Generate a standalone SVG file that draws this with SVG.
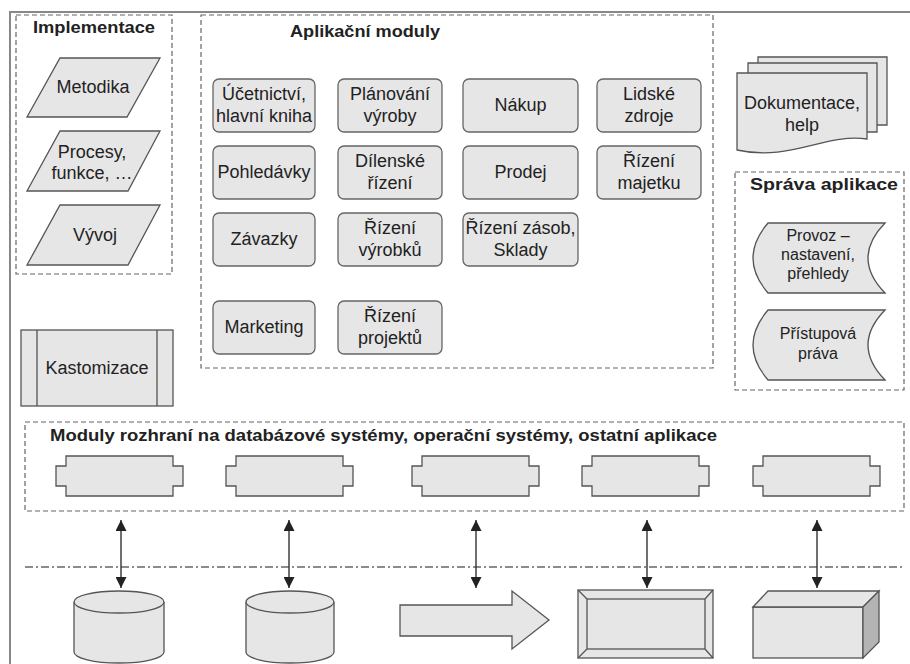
<svg xmlns="http://www.w3.org/2000/svg" width="910" height="664" viewBox="0 0 910 664">
<defs>
<style>
text{font-family:"Liberation Sans",Arial,sans-serif;fill:#222;}
.t{font-size:17px;font-weight:bold;}
.b{font-size:18px;text-anchor:middle;}
.s{font-size:16px;text-anchor:middle;}
.grp{fill:none;stroke:#666;stroke-width:1.2;stroke-dasharray:5 3;}
.sh{fill:#e6e6e6;stroke:#555;stroke-width:1.3;}
.mod{fill:#e6e6e6;stroke:#666;stroke-width:1.3;}
.dk{fill:#b4b4b4;stroke:#555;stroke-width:1.3;}
.ln{fill:none;stroke:#555;stroke-width:1.3;}
.conn{stroke:#333;stroke-width:1.4;fill:none;marker-start:url(#ah);marker-end:url(#ah);}
</style>
<marker id="ah" viewBox="0 0 10 10" refX="10" refY="5" markerWidth="11" markerHeight="11" markerUnits="userSpaceOnUse" orient="auto-start-reverse">
<path d="M0,0 L10,5 L0,10 Z" fill="#222"/>
</marker>
</defs>
<rect width="910" height="664" fill="#fff"/>
<path d="M10,664 V12 H910" fill="none" stroke="#888" stroke-width="2"/>

<g id="implementace">
<rect class="grp" x="16" y="15" width="156" height="259"/>
<text class="t" x="33" y="33" textLength="122" lengthAdjust="spacingAndGlyphs">Implementace</text>
</g>
<g id="metodika">
<polygon class="sh" points="60,58 160,58 127,117 27,117"/>
<text class="b" x="93" y="93">Metodika</text>
</g>
<g id="procesy">
<polygon class="sh" points="60,131 160,131 128,191 27,191"/>
<text class="b" x="92" y="158">Procesy,</text>
<text class="b" x="92" y="179">funkce, …</text>
</g>
<g id="vyvoj">
<polygon class="sh" points="60,205 160,205 128,265 27,265"/>
<text class="b" x="95" y="241">Vývoj</text>
</g>

<g id="kastomizace">
<rect class="sh" x="21" y="330" width="152" height="76"/>
<path class="ln" d="M37,330 V406 M157,330 V406"/>
<text class="b" x="97" y="374">Kastomizace</text>
</g>

<g id="aplikacni-moduly">
<rect class="grp" x="201" y="15" width="512" height="353"/>
<text class="t" x="290" y="37" textLength="150" lengthAdjust="spacingAndGlyphs">Aplikační moduly</text>
</g>
<g id="ucetnictvi">
<rect class="mod" x="213" y="79" width="102" height="53" rx="6"/>
<text class="b" x="264" y="100">Účetnictví,</text>
<text class="b" x="264" y="122">hlavní kniha</text>
</g>
<g id="planovani">
<rect class="mod" x="338" y="79" width="104" height="53" rx="6"/>
<text class="b" x="390" y="100">Plánování</text>
<text class="b" x="390" y="122">výroby</text>
</g>
<g id="nakup">
<rect class="mod" x="463" y="79" width="115" height="53" rx="6"/>
<text class="b" x="520.5" y="111">Nákup</text>
</g>
<g id="lidske-zdroje">
<rect class="mod" x="597" y="79" width="104" height="53" rx="6"/>
<text class="b" x="649" y="100">Lidské</text>
<text class="b" x="649" y="122">zdroje</text>
</g>
<g id="pohledavky">
<rect class="mod" x="213" y="146" width="102" height="53" rx="6"/>
<text class="b" x="264" y="178">Pohledávky</text>
</g>
<g id="dilenske">
<rect class="mod" x="338" y="146" width="104" height="53" rx="6"/>
<text class="b" x="390" y="167">Dílenské</text>
<text class="b" x="390" y="189">řízení</text>
</g>
<g id="prodej">
<rect class="mod" x="463" y="146" width="115" height="53" rx="6"/>
<text class="b" x="520.5" y="178">Prodej</text>
</g>
<g id="majetek">
<rect class="mod" x="597" y="146" width="104" height="53" rx="6"/>
<text class="b" x="649" y="167">Řízení</text>
<text class="b" x="649" y="189">majetku</text>
</g>
<g id="zavazky">
<rect class="mod" x="213" y="213" width="102" height="53" rx="6"/>
<text class="b" x="264" y="245">Závazky</text>
</g>
<g id="vyrobky">
<rect class="mod" x="338" y="213" width="104" height="53" rx="6"/>
<text class="b" x="390" y="234">Řízení</text>
<text class="b" x="390" y="256">výrobků</text>
</g>
<g id="zasoby">
<rect class="mod" x="463" y="213" width="115" height="53" rx="6"/>
<text class="b" x="520.5" y="234">Řízení zásob,</text>
<text class="b" x="520.5" y="256">Sklady</text>
</g>
<g id="marketing">
<rect class="mod" x="213" y="301" width="102" height="53" rx="6"/>
<text class="b" x="264" y="333">Marketing</text>
</g>
<g id="projekty">
<rect class="mod" x="338" y="301" width="104" height="53" rx="6"/>
<text class="b" x="390" y="322">Řízení</text>
<text class="b" x="390" y="344">projektů</text>
</g>

<g id="dokumentace">
<path class="sh" d="M758,63 V57 H887 V125 H877"/>
<path class="sh" d="M748,73 V63 H877 V132 H867"/>
<path class="sh" d="M737,73 H867 V139 C825,133 790,162 737,150 Z"/>
<text class="b" x="802" y="109">Dokumentace,</text>
<text class="b" x="802" y="131">help</text>
</g>

<g id="sprava-aplikace">
<rect class="grp" x="735" y="172" width="169" height="218"/>
<text class="t" x="750" y="190" textLength="148" lengthAdjust="spacingAndGlyphs">Správa aplikace</text>
</g>
<g id="provoz">
<path class="sh" d="M768,223 H885 Q851,258 885,293 H768 Q738,258 768,223 Z"/>
<text class="s" x="818" y="241">Provoz –</text>
<text class="s" x="818" y="260">nastavení,</text>
<text class="s" x="818" y="279">přehledy</text>
</g>
<g id="pristupova-prava">
<path class="sh" d="M768,310 H885 Q851,345 885,380 H768 Q738,345 768,310 Z"/>
<text class="s" x="818" y="339">Přístupová</text>
<text class="s" x="818" y="359">práva</text>
</g>

<g id="moduly-rozhrani">
<rect class="grp" x="25" y="422" width="879" height="89"/>
<text class="t" x="50" y="441" textLength="667" lengthAdjust="spacingAndGlyphs">Moduly rozhraní na databázové systémy, operační systémy, ostatní aplikace</text>
</g>
<g id="rozhrani-1"><path class="sh" d="M66,456 H173 V466 H183 V486 H173 V496 H66 V486 H56 V466 H66 Z"/></g>
<g id="rozhrani-2"><path class="sh" d="M236,456 H343 V466 H353 V486 H343 V496 H236 V486 H226 V466 H236 Z"/></g>
<g id="rozhrani-3"><path class="sh" d="M422,456 H529 V466 H539 V486 H529 V496 H422 V486 H412 V466 H422 Z"/></g>
<g id="rozhrani-4"><path class="sh" d="M592,456 H699 V466 H709 V486 H699 V496 H592 V486 H582 V466 H592 Z"/></g>
<g id="rozhrani-5"><path class="sh" d="M763,456 H870 V466 H880 V486 H870 V496 H763 V486 H753 V466 H763 Z"/></g>

<line x1="25" y1="567" x2="905" y2="567" stroke="#666" stroke-width="1.3" stroke-dasharray="8 3 2 3"/>

<g id="databaze-1">
<path class="sh" d="M74,602 V652 A45,11 0 0 0 164,652 V602"/>
<ellipse class="sh" cx="119" cy="602" rx="45" ry="11"/>
</g>
<g id="databaze-2">
<path class="sh" d="M246,602 V652 A44,11 0 0 0 334,652 V602"/>
<ellipse class="sh" cx="290" cy="602" rx="44" ry="11"/>
</g>
<g id="sipka">
<polygon class="sh" points="400,605 512,605 512,591 549,620 512,649 512,636 400,636"/>
</g>
<g id="ramec">
<rect class="sh" x="578" y="590" width="135" height="68"/>
<rect class="sh" x="587" y="599" width="118" height="50"/>
<path class="ln" d="M578,590 L587,599 M713,590 L705,599 M578,658 L587,649 M713,658 L705,649"/>
</g>
<g id="kvadr">
<rect class="sh" x="753" y="607" width="110" height="51"/>
<polygon class="sh" points="753,607 768,591 879,591 863,607"/>
<polygon class="dk" points="863,607 879,591 879,642 863,658"/>
</g>

<g id="connectors">
<line class="conn" x1="121" y1="520" x2="121" y2="588"/>
<line class="conn" x1="289" y1="520" x2="289" y2="588"/>
<line class="conn" x1="476" y1="520" x2="476" y2="588"/>
<line class="conn" x1="647" y1="520" x2="647" y2="588"/>
<line class="conn" x1="817" y1="520" x2="817" y2="588"/>
</g>
</svg>
